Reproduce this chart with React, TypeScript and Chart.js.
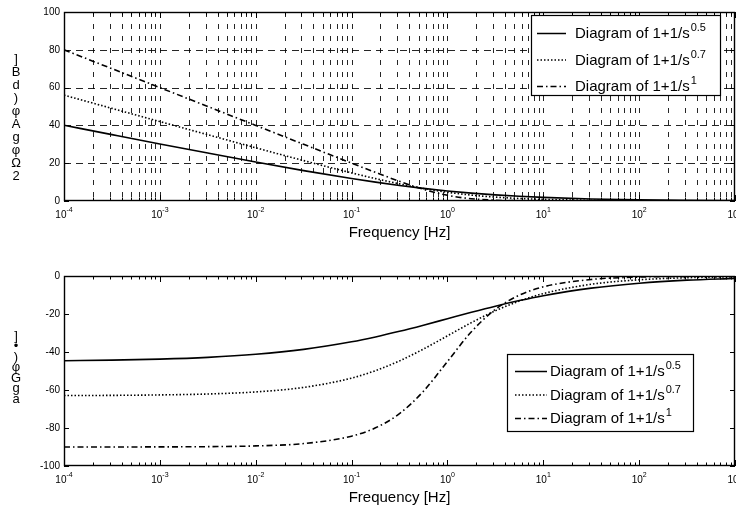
import React, { useEffect, useRef } from "react";
import { Chart, registerables } from "chart.js";

Chart.register(...registerables);

// ---------- data ----------
const FREQ = [1e-4, 3.162e-4, 1e-3, 3.162e-3, 1e-2, 3.162e-2, 0.1, 0.1778, 0.3162, 0.5623, 1, 1.778, 3.162, 5.623, 10, 31.62, 100, 316.2, 1000];

const MAG_05 = [40.06, 35.11, 30.19, 25.35, 20.61, 16.08, 11.9, 9.99, 8.24, 6.69, 5.33, 4.19, 3.25, 2.49, 1.9, 1.08, 0.61, 0.35, 0.19];
const MAG_07 = [56.01, 49.01, 42.03, 35.07, 28.16, 21.37, 14.87, 11.84, 9.06, 6.62, 4.64, 3.12, 2.06, 1.34, 0.87, 0.37, 0.16, 0.07, 0.03];
const MAG_10 = [80.0, 70.0, 60.0, 50.0, 40.0, 30.0, 20.04, 15.13, 10.41, 6.19, 3.01, 1.19, 0.41, 0.14, 0.04, 0.0, 0.0, 0.0, 0.0];

const PH_05 = [-44.6, -44.29, -43.75, -42.81, -41.22, -38.63, -34.64, -32.07, -29.12, -25.89, -22.5, -19.11, -15.88, -12.94, -10.36, -6.37, -3.78, -2.19, -1.25];
const PH_07 = [-62.92, -62.83, -62.59, -62.1, -61.01, -58.63, -53.75, -49.81, -44.69, -38.44, -31.5, -24.55, -18.31, -13.19, -9.26, -4.36, -2.0, -0.9, -0.4];
const PH_10 = [-89.99, -89.98, -89.94, -89.82, -89.43, -88.19, -84.29, -79.92, -72.45, -60.64, -45.0, -29.36, -17.55, -10.08, -5.71, -1.81, -0.57, -0.18, -0.06];

const X_MIN = 1e-4;
const X_MAX = 1e3;
const X_DECADES = [-4, -3, -2, -1, 0, 1, 2, 3];
const MAG_TICKS = [0, 20, 40, 60, 80, 100];
const PHASE_TICKS = [-100, -80, -60, -40, -20, 0];

const LEGEND_BASE = ["Diagram of 1+1/s", "Diagram of 1+1/s", "Diagram of 1+1/s"];
const LEGEND_EXP = ["0.5", "0.7", "1"];
const X_TITLE = "Frequency [Hz]";
const MAG_YLABEL = ["]", "B", "d", ")", "φ", "A", "g", "φ", "Ω", "2"];
const PHASE_YLABEL = ["]", "•", ")", "φ", "G", "g", "a"];

// ---------- styles ----------
const FONT = '"Liberation Sans", Arial, Helvetica, sans-serif';
const DASHES = [[], [1.5, 2], [6, 3, 1.5, 3]];

const X_TICKS: number[] = [];
for (let k = -4; k < 3; k++) {
  for (let m = 1; m <= 9; m++) X_TICKS.push(m * Math.pow(10, k));
}
X_TICKS.push(1e3);

type Cfg = {
  grid: boolean;
  yTicks: number[];
  yLabel: string[];
  yLabelTop: number;
  yLabelStep: number;
  legend: { x: number; y: number; w: number; h: number; l1: number; l2: number; tx: number; rows: number[] };
};

function decor(cfg: Cfg) {
  return {
    id: "decor",
    beforeDatasetsDraw(chart: any) {
      if (!cfg.grid) return;
      const { ctx, chartArea: a, scales } = chart;
      const x = scales.x, y = scales.y;
      ctx.save();
      ctx.strokeStyle = "rgba(0,0,0,0.85)";
      ctx.lineWidth = 1;
      ctx.setLineDash([5, 7]);
      for (const v of X_TICKS) {
        const px = Math.round(x.getPixelForValue(v)) + 0.5;
        if (px <= a.left + 2 || px >= a.right - 2) continue;
        ctx.beginPath();
        ctx.moveTo(px, a.top);
        ctx.lineTo(px, a.bottom);
        ctx.stroke();
      }
      ctx.setLineDash([7, 5]);
      for (const v of cfg.yTicks) {
        const py = Math.round(y.getPixelForValue(v)) + 0.5;
        if (py <= a.top + 2 || py >= a.bottom - 2) continue;
        ctx.beginPath();
        ctx.moveTo(a.left, py);
        ctx.lineTo(a.right, py);
        ctx.stroke();
      }
      ctx.restore();
    },
    afterDatasetsDraw(chart: any) {
      const { ctx, chartArea: a, scales } = chart;
      const x = scales.x, y = scales.y;
      ctx.save();
      ctx.setLineDash([]);
      ctx.strokeStyle = "#000";
      ctx.fillStyle = "#000";
      // frame
      ctx.lineWidth = 1.4;
      ctx.strokeRect(a.left + 0.5, a.top + 0.5, a.right - a.left - 1, a.bottom - a.top - 1);
      // inward ticks
      ctx.lineWidth = 1;
      for (const v of X_TICKS) {
        const px = Math.round(x.getPixelForValue(v)) + 0.5;
        const major = Math.abs(Math.log10(v) - Math.round(Math.log10(v))) < 1e-6;
        const len = major ? 6 : 3.5;
        ctx.beginPath();
        ctx.moveTo(px, a.bottom);
        ctx.lineTo(px, a.bottom - len);
        ctx.moveTo(px, a.top);
        ctx.lineTo(px, a.top + len);
        ctx.stroke();
      }
      for (const v of cfg.yTicks) {
        const py = Math.round(y.getPixelForValue(v)) + 0.5;
        ctx.beginPath();
        ctx.moveTo(a.left, py);
        ctx.lineTo(a.left + 5, py);
        ctx.moveTo(a.right, py);
        ctx.lineTo(a.right - 5, py);
        ctx.stroke();
      }
      // y tick labels
      ctx.font = `10px ${FONT}`;
      ctx.textAlign = "right";
      ctx.textBaseline = "middle";
      for (const v of cfg.yTicks) {
        ctx.fillText(String(v), a.left - 4, y.getPixelForValue(v));
      }
      // x tick labels 10^k
      ctx.textAlign = "left";
      ctx.textBaseline = "alphabetic";
      for (const k of X_DECADES) {
        const px = x.getPixelForValue(Math.pow(10, k));
        ctx.font = `10px ${FONT}`;
        const w1 = ctx.measureText("10").width;
        ctx.font = `7px ${FONT}`;
        const e = String(k);
        const w2 = ctx.measureText(e).width;
        const start = px - (w1 + w2) / 2;
        const base = a.bottom + 17;
        ctx.font = `10px ${FONT}`;
        ctx.fillText("10", start, base);
        ctx.font = `7px ${FONT}`;
        ctx.fillText(e, start + w1, base - 6);
      }
      // x title
      ctx.font = `15px ${FONT}`;
      ctx.textAlign = "center";
      ctx.fillText(X_TITLE, (a.left + a.right) / 2, a.bottom + 35.5);
      // y label (stacked glyphs)
      ctx.font = `13px ${FONT}`;
      ctx.textBaseline = "middle";
      cfg.yLabel.forEach((c, i) => {
        ctx.fillText(c, 16, cfg.yLabelTop + i * cfg.yLabelStep);
      });
      // legend
      const L = cfg.legend;
      ctx.fillStyle = "#fff";
      ctx.fillRect(L.x, L.y, L.w, L.h);
      ctx.strokeStyle = "#000";
      ctx.lineWidth = 1.2;
      ctx.strokeRect(L.x + 0.5, L.y + 0.5, L.w, L.h);
      ctx.fillStyle = "#000";
      ctx.textAlign = "left";
      ctx.textBaseline = "alphabetic";
      LEGEND_BASE.forEach((t, i) => {
        const ry = L.rows[i];
        ctx.setLineDash(DASHES[i]);
        ctx.lineWidth = 1.5;
        ctx.beginPath();
        ctx.moveTo(L.l1, ry + 0.5);
        ctx.lineTo(L.l2, ry + 0.5);
        ctx.stroke();
        ctx.setLineDash([]);
        ctx.font = `15px ${FONT}`;
        ctx.fillText(t, L.tx, ry + 5);
        const w = ctx.measureText(t).width;
        ctx.font = `11px ${FONT}`;
        ctx.fillText(LEGEND_EXP[i], L.tx + w + 1, ry - 2);
      });
      ctx.restore();
    },
  };
}

function makeChart(canvas: HTMLCanvasElement, kind: "mag" | "phase") {
  const series = kind === "mag" ? [MAG_05, MAG_07, MAG_10] : [PH_05, PH_07, PH_10];
  const cfg: Cfg =
    kind === "mag"
      ? {
          grid: true,
          yTicks: MAG_TICKS,
          yLabel: MAG_YLABEL,
          yLabelTop: 59,
          yLabelStep: 13,
          legend: { x: 531, y: 15, w: 189, h: 80, l1: 537, l2: 566, tx: 575, rows: [33, 59.5, 86] },
        }
      : {
          grid: false,
          yTicks: PHASE_TICKS,
          yLabel: PHASE_YLABEL,
          yLabelTop: 82,
          yLabelStep: 10.5,
          legend: { x: 507, y: 100, w: 186, h: 77, l1: 515, l2: 547, tx: 550, rows: [117, 140.5, 164] },
        };
  const pad = kind === "mag" ? { left: 64, right: 1, top: 12, bottom: 53 } : { left: 64, right: 1, top: 22, bottom: 42 };
  return new Chart(canvas, {
    type: "line",
    data: {
      datasets: series.map((vals, i) => ({
        label: LEGEND_BASE[i] + LEGEND_EXP[i],
        data: FREQ.map((f, j) => ({ x: f, y: vals[j] })),
        borderColor: "#000",
        borderWidth: 1.6,
        borderDash: DASHES[i],
        pointRadius: 0,
        fill: false,
        cubicInterpolationMode: "monotone",
      })),
    },
    options: {
      responsive: false,
      animation: false,
      devicePixelRatio: 1,
      events: [],
      layout: { padding: pad },
      plugins: { legend: { display: false }, tooltip: { enabled: false }, title: { display: false } },
      scales: {
        x: {
          type: "logarithmic",
          min: X_MIN,
          max: X_MAX,
          ticks: { display: false },
          grid: { display: false },
          border: { display: false },
          afterFit: (s: any) => {
            s.height = 0;
          },
        },
        y: {
          type: "linear",
          min: kind === "mag" ? 0 : -100,
          max: kind === "mag" ? 100 : 0,
          ticks: { display: false },
          grid: { display: false },
          border: { display: false },
          afterFit: (s: any) => {
            s.width = 0;
          },
        },
      },
    } as any,
    plugins: [decor(cfg)],
  });
}

export default function App() {
  const topRef = useRef<HTMLCanvasElement>(null);
  const botRef = useRef<HTMLCanvasElement>(null);
  useEffect(() => {
    const c1 = makeChart(topRef.current!, "mag");
    const c2 = makeChart(botRef.current!, "phase");
    return () => {
      c1.destroy();
      c2.destroy();
    };
  }, []);
  return (
    <div style={{ position: "fixed", left: 0, top: 0, width: 736, height: 508, background: "#fff" }}>
      <canvas ref={topRef} width={736} height={254} style={{ position: "absolute", left: 0, top: 0, display: "block" }} />
      <canvas ref={botRef} width={736} height={254} style={{ position: "absolute", left: 0, top: 254, display: "block" }} />
    </div>
  );
}
